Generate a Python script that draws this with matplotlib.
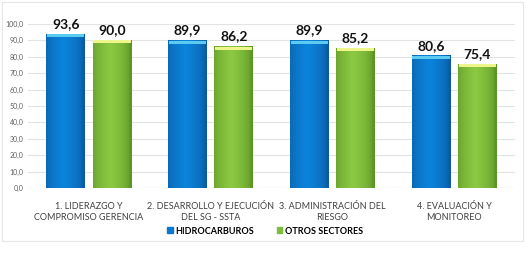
import matplotlib.pyplot as plt
import numpy as np
from matplotlib.patches import Rectangle

plt.rcParams['font.family'] = ['Lato', 'DejaVu Sans']

categories = ["1. LIDERAZGO Y\nCOMPROMISO GERENCIA",
              "2. DESARROLLO Y EJECUCIÓN\nDEL SG - SSTA",
              "3. ADMINISTRACIÓN DEL\nRIESGO",
              "4. EVALUACIÓN Y\nMONITOREO"]
hidrocarburos = [93.6, 89.9, 89.9, 80.6]
otros = [90.0, 86.2, 85.2, 75.4]
series_names = ["HIDROCARBUROS", "OTROS SECTORES"]
yticks = np.arange(0, 101, 10)

fig = plt.figure(figsize=(5.26, 2.62), dpi=100)
ax = fig.add_axes([28/526, 1 - 188/262, (515 - 28)/526, (188 - 24)/262])

x = np.arange(len(categories))
w = 0.32
off = 0.19

def shaded_bar(xc, h, dark, light, cap):
    # horizontal gradient: dark edges, lighter centre
    grad = np.linspace(0, 1, 64)
    prof = 1 - np.abs(grad - 0.45) * 2
    prof = np.clip(prof, 0, 1) ** 0.5
    c0 = np.array(plt.matplotlib.colors.to_rgb(dark))
    c1 = np.array(plt.matplotlib.colors.to_rgb(light))
    img = c0[None, :] + (c1 - c0)[None, :] * prof[:, None]
    ax.imshow(img[None, :, :], extent=[xc - w/2, xc + w/2, 0, h],
              aspect='auto', zorder=2, interpolation='bilinear')
    ax.bar(xc, 1.8, w * 0.96, bottom=h - 1.8, color=cap, zorder=3, linewidth=0)

for i in range(len(categories)):
    shaded_bar(x[i] - off, hidrocarburos[i], '#0A5BA3', '#0C84DC', '#5CCBF2')
    shaded_bar(x[i] + off, otros[i], '#5B9623', '#8CC943', '#EEF58A')
    ax.text(x[i] - off, hidrocarburos[i] + 2.5, f"{hidrocarburos[i]:.1f}".replace('.', ','),
            ha='center', va='bottom', fontsize=10, fontweight='bold', color='#111111')
    ax.text(x[i] + off, otros[i] + 2.5, f"{otros[i]:.1f}".replace('.', ','),
            ha='center', va='bottom', fontsize=10, fontweight='bold', color='#111111')

ax.set_xlim(-0.5, len(categories) - 0.5)
ax.set_ylim(0, 100)
ax.set_yticks(yticks)
ax.set_yticklabels([f"{v:.1f}".replace('.', ',') for v in yticks], fontsize=5, color='#606060')
ax.set_xticks(x)
ax.set_xticklabels(categories, fontsize=6.5, color='#404040', linespacing=1.25)
ax.tick_params(length=0, pad=3)
ax.tick_params(axis='x', pad=10)
ax.yaxis.grid(True, color='#e3e3e3', linewidth=0.8, zorder=0)
ax.set_axisbelow(True)
for s in ax.spines.values():
    s.set_visible(False)
ax.axhline(0, color='#d0d0d0', linewidth=0.8, zorder=1)

# legend
h1 = Rectangle((0, 0), 1, 1, color='#0A78D0')
h2 = Rectangle((0, 0), 1, 1, color='#7DBE3C')
fig.legend([h1, h2], series_names, loc='center', bbox_to_anchor=(265/526, 1 - 231/262),
           ncol=2, frameon=False, prop={'size': 6.5, 'weight': 'bold'},
           handlelength=0.6, handleheight=0.6, handletextpad=0.3, columnspacing=2.5)

# outer frame
fig.patches.append(Rectangle((2/526, 1 - 241/262), 521/526, 239/262, transform=fig.transFigure,
                             fill=False, edgecolor='#e6e6e6', linewidth=0.8))

fig.savefig('out.png', dpi=100)
